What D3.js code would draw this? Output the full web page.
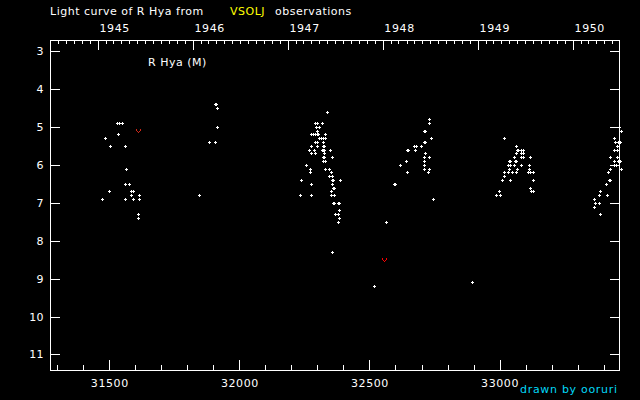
<!DOCTYPE html>
<html><head><meta charset="utf-8">
<script src="https://cdn.jsdelivr.net/npm/d3@7"></script>
<style>html,body{margin:0;background:#000;} svg{display:block}</style>
</head><body><svg id="c" width="640" height="400"></svg>
<script>
// ---- data ----
const yearLabels = [1945, 1946, 1947, 1948, 1949, 1950];
const jdTicks = [31500, 32000, 32500, 33000];
const magTicks = [3, 4, 5, 6, 7, 8, 9, 10, 11];

const obsJD = [
  // 1945
  31531,31538,31550,31535,31485,31504,31562,31565,31562,31577,31500,31585,31592,31585,31615,31473,31562,31592,31615,31611,31611,
  // 1946
  31906,31911,31915,31915,31884,31907,31846,
  // 1947
  32338,32292,32299,32319,32296,32307,32299,
  32276,32284,32292,32299,32302,32330,
  32307,32315,32322,32330,
  32292,32299,32322,
  32276,32299,32322,32326,
  32269,32288,32319,32322,32326,32349,
  32276,32292,32326,
  32322,32326,32357,
  32322,32330,
  32257,
  32272,32330,32345,
  32272,32353,
  32345,32357,
  32238,32355,32359,32388,
  32276,32357,
  32359,32363,
  32353,
  32234,32276,32353,32365,
  32359,32363,32378,32382,
  32384,
  32369,32380,
  32384,
  32380,
  32357,
  // 1948
  32730,32730,32710,32714,32737,32710,32714,32673,32677,32699,32643,32647,32676,32715,
  32710,32730,32641,32710,32618,32710,32710,32730,32645,32726,32595,32599,32745,32565,32518,
  // 1949
  32895,33018,33064,33066,33070,33083,33091,33064,33083,33091,33056,33083,33091,33118,
  33035,33039,33058,33062,33033,33041,33056,33083,33114,33037,33068,33114,
  33018,33033,33049,33064,33110,33118,33129,33018,33010,33041,33129,33118,
  32999,33122,33129,32987,33003,
  // 1950
  33460,33468,33441,33445,33456,33464,33452,33441,33452,33425,33452,33441,33456,33464,
  33441,33449,33425,33468,33418,33419,33423,33410,33387,33383,33414,33364,33368,33383,33364,33387
];
const obsMag = [
  4.9,4.9,4.9,5.2,5.3,5.5,5.5,6.1,6.5,6.5,6.7,6.7,6.7,6.8,6.8,6.9,6.9,6.9,6.9,7.3,7.4,
  4.4,4.4,4.5,5.0,5.4,5.4,6.8,
  4.6,4.9,4.9,4.9,5.0,5.0,5.1,
  5.2,5.2,5.2,5.2,5.2,5.2,
  5.3,5.3,5.3,5.3,
  5.4,5.4,5.4,
  5.5,5.5,5.5,5.5,
  5.6,5.6,5.6,5.6,5.6,5.6,
  5.7,5.7,5.7,
  5.8,5.8,5.8,
  5.9,5.9,
  6.0,
  6.1,6.1,6.1,
  6.2,6.2,
  6.3,6.3,
  6.4,6.4,6.4,6.4,
  6.5,6.5,
  6.6,6.6,
  6.7,
  6.8,6.8,6.8,6.8,
  7.0,7.0,7.0,7.0,
  7.2,
  7.3,7.3,
  7.4,
  7.5,
  8.3,
  4.8,4.9,5.1,5.1,5.3,5.4,5.4,5.5,5.5,5.5,5.6,5.6,5.6,5.7,
  5.8,5.8,5.9,5.9,6.0,6.0,6.1,6.1,6.2,6.2,6.5,6.5,6.9,7.5,9.2,
  9.1,5.3,5.5,5.6,5.6,5.6,5.6,5.7,5.7,5.7,5.8,5.8,5.8,5.8,
  5.9,5.9,5.9,5.9,6.0,6.0,6.0,6.0,6.0,6.1,6.1,6.1,
  6.2,6.2,6.2,6.2,6.2,6.2,6.2,6.3,6.4,6.4,6.4,6.6,
  6.7,6.7,6.7,6.8,6.8,
  5.0,5.1,5.3,5.4,5.4,5.4,5.5,5.6,5.6,5.8,5.8,5.9,5.9,5.9,
  6.0,6.0,6.1,6.1,6.2,6.4,6.4,6.5,6.7,6.8,6.8,6.9,7.0,7.0,7.1,7.3
];
// fainter-than observations
const limJD = [31611, 32557];
const limMag = [5.1, 8.5];

// ---- layout ----
const W = 640, H = 400, L = 50, R = 620, T = 40, B = 370;
const FONT = "'DejaVu Sans', sans-serif";
const x = d3.scaleLinear().domain([31272, 33463]).range([L, R]);
const y = d3.scaleLinear().domain([2.71, 11.41]).range([T, B]);
const jdOf = (yr, m) => Date.UTC(yr, m, 1) / 864e5 + 40587.5;

const svg = d3.select('#c');
svg.append('rect').attr('width', W).attr('height', H).attr('fill', '#000');

function style(g, ls) {
  g.select('.domain').remove();
  g.selectAll('line').attr('stroke', '#fff').attr('shape-rendering', 'crispEdges');
  g.selectAll('text').attr('fill', '#fff').style('font-family', FONT).style('font-size', '11px')
    .attr('letter-spacing', ls || 0);
}

// minor ticks
const minorJD = d3.range(31300, 33500, 100).filter(v => !jdTicks.includes(v));
svg.append('g').attr('transform', `translate(0,${B})`)
  .call(d3.axisBottom(x).tickValues(minorJD).tickSize(-5).tickFormat(''))
  .call(g => style(g));
const months = [];
for (let yr = 1944; yr <= 1951; yr++) for (let m = 1; m < 12; m++) {
  const j = jdOf(yr, m); if (j > 31272 && j < 33463) months.push(j);
}
svg.append('g').attr('transform', `translate(0,${T})`)
  .call(d3.axisTop(x).tickValues(months).tickSize(-4).tickFormat(''))
  .call(g => style(g));

// major axes
svg.append('g').attr('transform', `translate(0,${B})`)
  .call(d3.axisBottom(x).tickValues(jdTicks).tickSize(-10).tickPadding(9).tickFormat(d => String(d)))
  .call(g => style(g, 0.6));
svg.append('g').attr('transform', `translate(0,${T})`)
  .call(d3.axisTop(x).tickValues(yearLabels.map(yr => jdOf(yr, 0))).tickSize(-10).tickPadding(8)
    .tickFormat((d, i) => String(yearLabels[i])))
  .call(g => style(g, 0.6))
  .call(g => g.selectAll('text').attr('text-anchor', 'start').attr('x', 1));
svg.append('g').attr('transform', `translate(${L},0)`)
  .call(d3.axisLeft(y).tickValues(magTicks).tickSize(-10).tickPadding(6).tickFormat(d => String(d)))
  .call(g => style(g, 0.4));
svg.append('g').attr('transform', `translate(${R},0)`)
  .call(d3.axisRight(y).tickValues(magTicks).tickSize(-10).tickFormat(''))
  .call(g => style(g));

// frame
svg.append('rect').attr('x', L + 0.5).attr('y', T + 0.5).attr('width', R - L - 1).attr('height', B - T)
  .attr('fill', 'none').attr('stroke', '#fff').attr('shape-rendering', 'crispEdges');

// observations as small crosses
svg.append('g').selectAll('path').data(d3.range(obsJD.length)).join('path')
  .attr('d', i => {
    const px = Math.round(x(obsJD[i])), py = Math.round(y(obsMag[i]));
    return `M${px - 1},${py}h3v1h-3z M${px},${py - 1}h1v3h-1z`;
  })
  .attr('fill', '#fff').attr('shape-rendering', 'crispEdges');

// fainter-than marks (red v)
svg.append('g').selectAll('path').data(d3.range(limJD.length)).join('path')
  .attr('d', i => {
    const px = Math.round(x(limJD[i])), py = Math.round(y(limMag[i]));
    return `M${px - 2},${py - 2}h1v2h-1z M${px + 2},${py - 2}h1v2h-1z M${px - 1},${py}h1v1h-1z M${px + 1},${py}h1v1h-1z M${px},${py + 1}h1v1h-1z`;
  })
  .attr('fill', (d, i) => i === 0 ? '#d02818' : '#ff0000').attr('shape-rendering', 'crispEdges');

// texts
const t = svg.append('g').style('font-family', FONT).style('font-size', '11px').attr('letter-spacing', 0.5);
t.append('text').attr('x', 50).attr('y', 15).attr('fill', '#fff').text('Light curve of R Hya from');
t.append('text').attr('x', 230).attr('y', 15).attr('fill', '#ffff00').text('VSOLJ');
t.append('text').attr('x', 275).attr('y', 15).attr('fill', '#fff').text('observations');
t.append('text').attr('x', 148).attr('y', 66).attr('fill', '#fff').text('R Hya (M)');
t.append('text').attr('x', 520).attr('y', 393).attr('fill', '#00d8f8').attr('letter-spacing', 0.7).text('drawn by ooruri');
</script>
</body></html>
